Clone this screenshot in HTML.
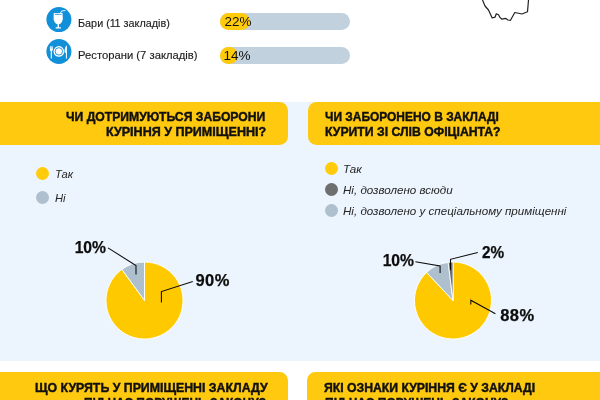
<!DOCTYPE html>
<html lang="uk">
<head>
<meta charset="utf-8">
<title>Інфографіка</title>
<style>
html,body{margin:0;padding:0;}
body{width:600px;height:400px;overflow:hidden;position:relative;background:#fff;font-family:"Liberation Sans",sans-serif;color:#222;}
.abs{position:absolute;}
.bluebg{left:0;top:102px;width:600px;height:259px;background:#ecf4fd;}
.hdr{background:#fec90f;height:43px;top:102px;}
.hl{left:0;width:288.2px;border-radius:0 8.5px 8.5px 0;}
.hr{left:307.8px;width:293px;border-radius:8.5px 0 0 8.5px;}
.hdr2{top:372.4px;height:43px;}
.hdr2.hl{width:287.5px;}
.hdr2.hr{left:307px;}
.ht{font-weight:bold;font-size:13.4px;line-height:15px;color:#101010;white-space:nowrap;transform-origin:left top;-webkit-text-stroke:0.45px #101010;}
.htr{text-align:right;transform-origin:right top;}
.lbl{font-size:10.5px;color:#1f1f1f;-webkit-text-stroke:0.15px #1f1f1f;white-space:nowrap;transform-origin:left top;}
.bar{left:220px;width:130px;height:17px;border-radius:8.5px;background:#c1d1dd;}
.fill{left:220px;height:17px;border-radius:8.5px;background:#ffcb0b;}
.pct{font-size:13.5px;color:#111;line-height:17px;white-space:nowrap;}
.dot{width:13px;height:13px;border-radius:50%;}
.lg{font-style:italic;font-size:11.6px;color:#262626;white-space:nowrap;line-height:14px;}
.pl{font-weight:bold;font-size:16.5px;color:#0d0d0d;-webkit-text-stroke:0.25px #0d0d0d;line-height:16px;white-space:nowrap;}
</style>
</head>
<body>
<div class="abs bluebg"></div>
<div class="abs bluebg" style="top:361px;height:11px;background:#fff"></div>

<!-- top rows -->
<svg class="abs" style="left:0;top:0" width="600" height="100" viewBox="0 0 600 100">
  <circle cx="58.9" cy="19.55" r="12.5" fill="#1190d9"/>
  <circle cx="58.9" cy="51.5" r="12.5" fill="#1190d9"/>
  <!-- glass -->
  <path d="M53.8 12.9 H62.5 L62.8 18 C62.9 22 60.6 23.8 59 24.3 V27.3 H60.9 V28.5 H55.7 V27.3 H57.6 V24.3 C56 23.8 53.4 22 53.6 18 Z" fill="#fff"/>
  <path d="M54.9 14.3 H61.5" stroke="#1190d9" stroke-width="0.9" fill="none"/>
  <path d="M60.1 14.2 L61.6 11 L65.4 10.5" stroke="#fff" stroke-width="0.9" fill="none"/>
  <!-- plate -->
  <circle cx="58.85" cy="51.4" r="5.3" fill="#fff"/>
  <circle cx="58.85" cy="51.4" r="3.7" fill="none" stroke="#1190d9" stroke-width="0.9"/>
  <path d="M51.3 47 V58.6" stroke="#fff" stroke-width="1.1"/>
  <path d="M49.9 46.2 H52.8 V49.8 C52.8 50.8 52 51.1 51.3 51.1 C50.6 51.1 49.9 50.8 49.9 49.8 Z" fill="#fff"/>
  <path d="M50.9 46 V48.6 M51.8 46 V48.6" stroke="#1190d9" stroke-width="0.35"/>
  <path d="M66.9 45.3 C64.8 47 64.4 50.5 64.7 52.5 L65.9 53.1 V58.6 H66.9 Z" fill="#fff"/>
  <!-- map outline -->
  <path d="M482.5 0 L485 6 L488.5 10 L492.2 18 L495 17.2 L496.3 13.8 L498.5 14.8 L500 17.5 L502 19.2 L505.5 18.3 L508 20 L510.5 20.3 L514.8 12.5 L522 14 L527.5 11.8 L528.5 0" fill="none" stroke="#222" stroke-width="1.2" stroke-linejoin="round"/>
</svg>
<div class="abs lbl" id="l1" style="left:78.2px;top:16.3px;line-height:14px;transform:scaleX(1.03)">Бари (<span style="letter-spacing:-1.2px">1</span>1 закладів)</div>
<div class="abs lbl" id="l2" style="left:78.2px;top:47.6px;line-height:14px;transform:scaleX(1.072)">Ресторани (7 закладів)</div>
<div class="abs bar" style="top:13.2px"></div>
<div class="abs fill" style="top:13.2px;width:29.5px"></div>
<div class="abs pct" id="c1" style="left:224.6px;top:13.3px">22%</div>
<div class="abs bar" style="top:47.1px"></div>
<div class="abs fill" style="top:47.1px;width:17.5px"></div>
<div class="abs pct" id="c2" style="left:223.6px;top:46.9px">14%</div>

<!-- headers -->
<div class="abs hdr hl"></div>
<div class="abs hdr hr"></div>
<div class="abs ht" id="h1a" style="left:66px;top:108.6px;transform:scaleX(0.9081)">ЧИ ДОТРИМУЮТЬСЯ ЗАБОРОНИ</div>
<div class="abs ht" id="h1b" style="left:106.4px;top:123.6px;transform:scaleX(0.9358)">КУРІННЯ У ПРИМІЩЕННІ?</div>
<div class="abs ht" id="h2a" style="left:325.3px;top:108.6px;transform:scaleX(0.8918)">ЧИ ЗАБОРОНЕНО В ЗАКЛАДІ</div>
<div class="abs ht" id="h2b" style="left:325.3px;top:123.6px;transform:scaleX(0.9135)">КУРИТИ ЗІ СЛІВ ОФІЦІАНТА?</div>

<!-- legends -->
<div class="abs dot" style="left:36px;top:167px;background:#ffcb0b"></div>
<div class="abs lg" style="left:55px;top:167.2px;font-size:11.2px">Так</div>
<div class="abs dot" style="left:36px;top:191px;background:#aebfce"></div>
<div class="abs lg" style="left:55px;top:191.2px;font-size:11.2px">Ні</div>

<div class="abs dot" style="left:324.5px;top:162px;background:#ffcb0b"></div>
<div class="abs lg" style="left:343px;top:161.6px">Так</div>
<div class="abs dot" style="left:324.5px;top:183px;background:#6e6e6e"></div>
<div class="abs lg" style="left:343px;top:183px">Ні, дозволено всюди</div>
<div class="abs dot" style="left:324.5px;top:204px;background:#aebfce"></div>
<div class="abs lg" style="left:343px;top:204px">Ні, дозволено у спеціальному приміщенні</div>

<!-- pies -->
<svg class="abs" style="left:0;top:230px" width="600" height="130" viewBox="0 230 600 130">
  <g>
  <path d="M144.5 300.5 L144.50 262.00 A38.5 38.5 0 1 1 121.87 269.35 Z" fill="#ffc900" stroke="#fff" stroke-width="0.9" stroke-linejoin="round"/>
  <path d="M144.5 300.5 L121.87 269.35 A38.5 38.5 0 0 1 144.50 262.00 Z" fill="#aebfce" stroke="#fff" stroke-width="0.9" stroke-linejoin="round"/>
  <path d="M108 247.9 L136 265.5 V274.6" fill="none" stroke="#0a0a0a" stroke-width="1.05"/>
  <path d="M192.8 281.5 L161.4 291.6 V302.5" fill="none" stroke="#0a0a0a" stroke-width="1.05"/>
  </g>
  <g>
  <path d="M453 300.5 L453.00 262.00 A38.5 38.5 0 1 1 426.64 272.43 Z" fill="#ffc900" stroke="#fff" stroke-width="0.9" stroke-linejoin="round"/>
  <path d="M453 300.5 L426.64 272.43 A38.5 38.5 0 0 1 448.17 262.30 Z" fill="#aebfce" stroke="#fff" stroke-width="0.9" stroke-linejoin="round"/>
  <path d="M453 300.5 L448.17 262.30 A38.5 38.5 0 0 1 453.00 262.00 Z" fill="#6e6e6e" stroke="#fff" stroke-width="0.9" stroke-linejoin="round"/>
  <path d="M415.4 261.7 L440.1 266 V273" fill="none" stroke="#0a0a0a" stroke-width="1.05"/>
  <path d="M477.8 252.5 L450.5 259.3 V270.3" fill="none" stroke="#0a0a0a" stroke-width="1.05"/>
  <path d="M495.4 313.8 L470.8 300.2 V304.4" fill="none" stroke="#0a0a0a" stroke-width="1.05"/>
  </g>
</svg>
<div class="abs pl" id="p1" style="left:73.1px;top:239.3px;transform:scaleX(0.95);transform-origin:right top">10%</div>
<div class="abs pl" id="p2" style="left:195.5px;top:272.3px;letter-spacing:0.4px">90%</div>
<div class="abs pl" id="p3" style="left:380.9px;top:251.7px;transform:scaleX(0.95);transform-origin:right top">10%</div>
<div class="abs pl" id="p4" style="left:482.3px;top:243.6px;transform:scaleX(0.93);transform-origin:left top">2%</div>
<div class="abs pl" id="p5" style="left:500.3px;top:307.3px;letter-spacing:0.4px">88%</div>

<!-- bottom headers -->
<div class="abs hdr hdr2 hl"></div>
<div class="abs hdr hdr2 hr"></div>
<div class="abs ht" id="h3a" style="left:34.5px;top:380.4px;transform:scaleX(0.9207)">ЩО КУРЯТЬ У ПРИМІЩЕННІ ЗАКЛАДУ</div>
<div class="abs ht" id="h3b" style="left:84.2px;top:395.2px;transform:scaleX(0.8914)">ПІД ЧАС ПОРУШЕНЬ ЗАКОНУ?</div>
<div class="abs ht" id="h4a" style="left:323.6px;top:380.4px;transform:scaleX(0.9123)">ЯКІ ОЗНАКИ КУРІННЯ Є У ЗАКЛАДІ</div>
<div class="abs ht" id="h4b" style="left:325.3px;top:395.2px;transform:scaleX(0.8986)">ПІД ЧАС ПОРУШЕНЬ ЗАКОНУ?</div>
</body>
</html>
